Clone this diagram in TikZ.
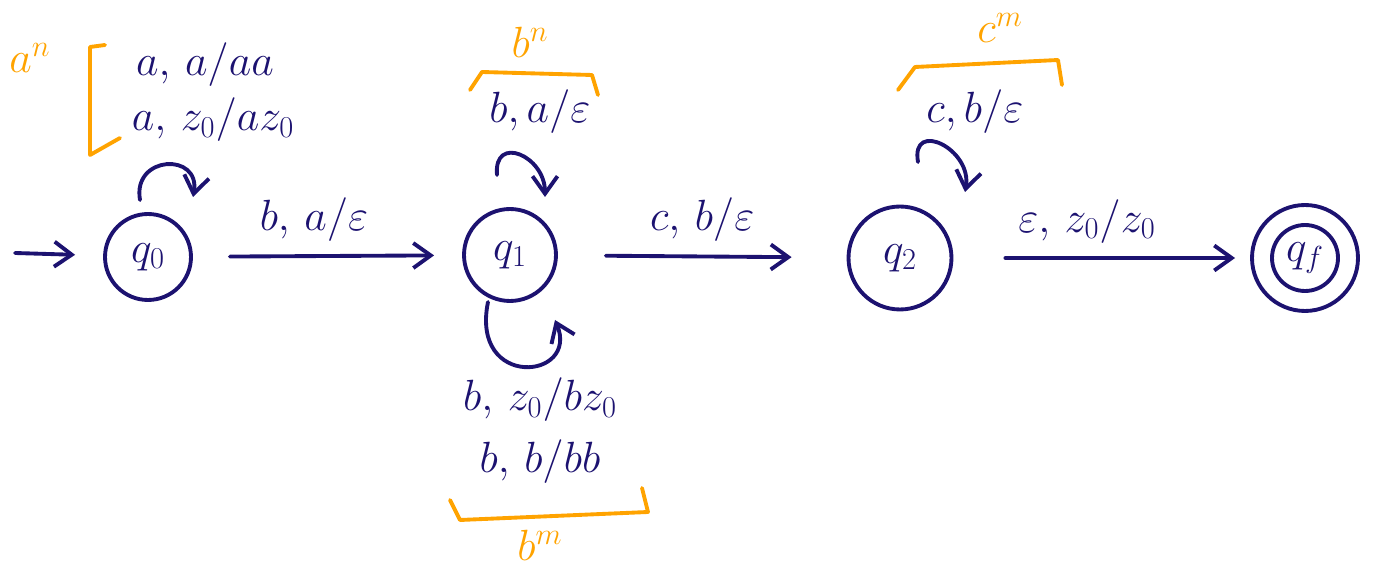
\documentclass[tikz,border=0pt]{standalone}
\usetikzlibrary{arrows.meta}
\definecolor{ink}{RGB}{28,18,112}
\definecolor{marker}{RGB}{255,163,0}
\tikzset{
  state/.style={draw=ink, circle, line width=2.2pt, text=ink, inner sep=0pt, font=\fontsize{24}{28}\selectfont},
  trans/.style={draw=ink, line width=2.2pt, line cap=round, ->},
  lbl/.style={text=ink, font=\fontsize{24}{28}\selectfont},
  brk/.style={draw=marker, line width=2.2pt, line join=round, line cap=round},
  cnt/.style={text=marker, font=\fontsize{24}{28}\selectfont}
}
\begin{document}
\begin{tikzpicture}[x=0.02cm, y=0.02cm, >={Straight Barb[length=3.5mm, width=5mm, line width=2.2pt]}]
        \useasboundingbox (0,0) rectangle (1377,-580);
        % states
        \node[state, minimum size=1.72cm] (q0) at (148,-257) {$q_0$};
        \node[state, minimum size=1.84cm] (q1) at (510,-255) {$q_1$};
        \node[state, minimum size=2.06cm] (q2) at (900,-258) {$q_2$};
        \node[state, minimum size=1.32cm] (qf) at (1305,-258) {$q_f$};
        \node[state, minimum size=2.12cm] (qfo) at (qf) {};
        \coordinate (start) at (15,-253);

        % transitions
        \draw[trans, shorten >=0.56cm] (start) -- (q0);
        \draw[trans, shorten <=0.74cm, shorten >=0.56cm] (q0) -- (q1)
            node[lbl, above=4pt, pos=0.45] (l01) {$b,\, a/\varepsilon$};
        \draw[trans, shorten <=0.96cm, shorten >=1.1cm] (q1) -- (q2)
            node[lbl, above=4pt, pos=0.5] (l12) {$c,\, b/\varepsilon$};
        \draw[trans, shorten <=1.04cm, shorten >=0.3cm] (q2) -- (qfo)
            node[lbl, above=4pt, pos=0.45] (l2f) {$\varepsilon,\, z_0/z_0$};

        % loops
        \draw[trans] ([shift={(-8,57)}]q0.center) to[out=100, in=80, looseness=2.2] ([shift={(45,60)}]q0.center);
        \draw[trans] ([shift={(-13,80)}]q1.center) to[out=95, in=90, looseness=2] ([shift={(35,58)}]q1.center);
        \draw[trans] ([shift={(-22,-47)}]q1.center) .. controls ([shift={(-40,-135)}]q1.center) and ([shift={(70,-125)}]q1.center) .. ([shift={(45,-65)}]q1.center);
        \draw[trans] ([shift={(18,96)}]q2.center) to[out=100, in=80, looseness=2] ([shift={(65,66)}]q2.center);

        % loop labels
        \node[lbl] (l00a) at (205,-65) {$a,\, a/aa$};
        \node[lbl] (l00b) at (213,-120) {$a,\, z_0/az_0$};
        \node[lbl] (l11a) at (540,-112) {$b, a/\varepsilon$};
        \node[lbl] (l11b) at (540,-400) {$b,\, z_0/bz_0$};
        \node[lbl] (l11c) at (540,-462) {$b,\, b/bb$};
        \node[lbl] (l22) at (975,-112) {$c, b/\varepsilon$};

        % counts
        \draw[brk] (105,-45) -- (90,-47) -- (90,-155) -- (120,-138);
        \node[cnt] (an) at (30,-58) {$a^n$};
        \draw[brk] (470,-90) -- (482,-72) -- (592,-75) -- (598,-95);
        \node[cnt] (bn) at (530,-42) {$b^n$};
        \draw[brk] (450,-500) -- (460,-520) -- (648,-512) -- (642,-488);
        \node[cnt] (bm) at (540,-545) {$b^m$};
        \draw[brk] (898,-90) -- (915,-67) -- (1058,-60) -- (1062,-85);
        \node[cnt] (cm) at (1000,-28) {$c^m$};
\end{tikzpicture}
\end{document}
